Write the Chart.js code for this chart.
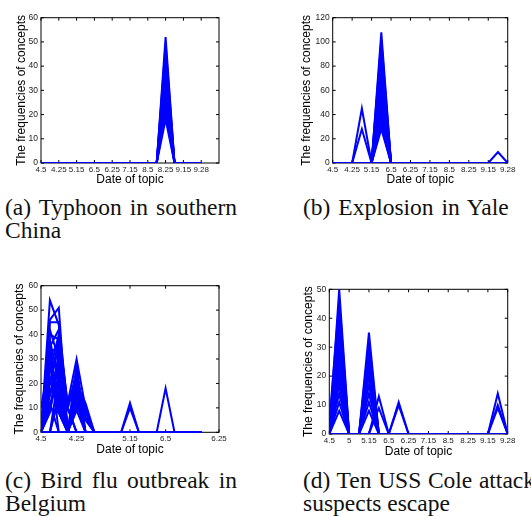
<!DOCTYPE html>
<html>
<head>
<meta charset="utf-8">
<script src="https://cdn.jsdelivr.net/npm/chart.js@4.4.0/dist/chart.umd.min.js"></script>
<style>
  body { margin: 0; background: #fff; width: 531px; height: 516px; overflow: hidden; position: relative; }
  canvas { position: absolute; }
  .cap { position: absolute; width: 232px; font-family: "Liberation Serif", "Times New Roman", serif;
         font-size: 23.5px; line-height: 23px; color: #111; text-align: justify; text-align-last: left; }
</style>
</head>
<body>
<canvas id="chartA" width="265" height="190" style="left:0;top:0"></canvas>
<canvas id="chartB" width="251" height="190" style="left:280px;top:0"></canvas>
<canvas id="chartC" width="265" height="190" style="left:0;top:270px"></canvas>
<canvas id="chartD" width="251" height="190" style="left:280px;top:270px"></canvas>
<div class="cap" style="left:5px;top:196px">(a) Typhoon in southern China</div>
<div class="cap" style="left:303px;top:196px;word-spacing:2px">(b) Explosion in Yale</div>
<div class="cap" style="left:5px;top:469px">(c) Bird flu outbreak in Belgium</div>
<div class="cap" style="left:303px;top:469px">(d) Ten USS Cole attack suspects escape</div>
<script>
// sampling days (index along the x axis) and the dates printed under them
const days = [0, 1, 2, 3, 4, 5, 6, 7, 8, 9, 10, 11, 12, 13, 14, 15, 16, 17, 18];
const tickDaysEven = [0, 2, 4, 6, 8, 10, 12, 14, 16, 18];
const tickLabelsA = ['4.5', '4.25', '5.15', '6.5', '6.25', '7.15', '8.5', '8.25', '9.15', '9.28'];
const tickLabelsB = ['4.5', '4.25', '5.15', '6.5', '6.25', '7.15', '8.5', '8.25', '9.15', '9.28'];
const tickDaysC = [0, 4, 10, 14, 20];
const tickLabelsC = ['4.5', '4.25', '5.15', '6.5', '6.25'];
const tickLabelsD = ['4.5', '5', '5.15', '6.5', '6.25', '7.15', '8.5', '8.25', '9.15', '9.28'];

// each concept: [day, frequency] pairs, every other day is 0
const seriesA = [
  [[14, 52]], [[14, 49]], [[14, 46]], [[14, 43]], [[14, 40]], [[14, 37]], [[14, 35]],
  [[14, 32]], [[14, 29]], [[14, 26]], [[14, 24]], [[14, 21]], [[14, 18]]
];
const seriesB = [
  [[3, 45]], [[3, 28]],
  [[5, 108]], [[5, 102]], [[5, 96]], [[5, 90]], [[5, 84]], [[5, 79]], [[5, 73]], [[5, 67]],
  [[5, 61]], [[5, 55]], [[5, 50]], [[5, 45]], [[5, 40]], [[5, 36]], [[5, 32]], [[5, 28]],
  [[17, 9]]
];
const seriesC = [
  [[1, 54], [2, 44]], [[1, 46], [2, 51]], [[1, 45], [2, 45], [3, 10]], [[1, 42], [2, 30], [3, 10], [4, 25]],
  [[1, 40], [2, 38]], [[1, 38], [2, 20], [4, 12]], [[1, 35], [2, 42], [3, 10]], [[1, 33], [2, 10]],
  [[1, 30], [2, 25], [4, 20]], [[1, 28], [2, 15]], [[1, 25], [2, 40], [3, 12], [4, 30], [5, 10]],
  [[1, 22], [2, 8]], [[1, 20], [2, 35], [4, 18]], [[1, 18], [2, 12]], [[1, 15], [2, 30], [3, 10], [4, 22], [5, 8]],
  [[1, 12], [2, 20]], [[1, 10], [2, 8], [4, 15]], [[1, 8], [2, 28]], [[1, 36], [2, 9], [4, 10], [5, 5]],
  [[1, 9], [2, 33]], [[2, 24]], [[2, 14], [4, 28]], [[4, 20], [5, 12]], [[4, 16]], [[4, 12], [5, 8]],
  [[4, 9]], [[0, 10], [1, 30]], [[0, 6], [1, 20], [2, 38]], [[0, 4], [1, 12]],
  [[1, 32], [2, 36]], [[1, 26], [2, 18]], [[1, 16], [2, 26], [3, 10]], [[2, 16], [4, 24], [5, 6]],
  [[10, 12]], [[10, 10]], [[14, 18]]
];
const seriesD = [
  [[1, 50]], [[0, 4], [1, 46]], [[1, 42]], [[0, 3], [1, 38]], [[1, 35]], [[1, 30]], [[0, 5], [1, 28]],
  [[1, 25]], [[1, 22]], [[1, 20]], [[1, 17]], [[1, 14]], [[1, 11]], [[1, 8]],
  [[4, 35]], [[4, 32]], [[4, 29]], [[4, 26]], [[4, 23]], [[4, 20]], [[4, 17]], [[4, 14]], [[4, 11]], [[4, 8]],
  [[5, 13]], [[5, 9]], [[7, 11]], [[7, 10]],
  [[17, 14]], [[17, 10]], [[17, 9]]
];

Chart.defaults.font.family = '"Liberation Sans", Arial, Helvetica, sans-serif';
Chart.defaults.color = '#222';

function toPoints(pairs) {
  const known = new Map(pairs);
  return days.map(d => ({ x: d, y: known.has(d) ? known.get(d) : 0 }));
}

// MATLAB-like box with inward tick marks
const frame = {
  id: 'frame',
  beforeDatasetsDraw(chart) {
    const { ctx, chartArea: a, scales: { x, y } } = chart;
    const len = 3;
    ctx.save();
    ctx.strokeStyle = '#000';
    ctx.lineWidth = 1;
    ctx.strokeRect(a.left, a.top, a.right - a.left, a.bottom - a.top);
    ctx.beginPath();
    y.ticks.forEach(t => {
      const py = y.getPixelForValue(t.value);
      ctx.moveTo(a.left, py); ctx.lineTo(a.left + len, py);
      ctx.moveTo(a.right, py); ctx.lineTo(a.right - len, py);
    });
    x.ticks.forEach(t => {
      const px = x.getPixelForValue(t.value);
      ctx.moveTo(px, a.top); ctx.lineTo(px, a.top + len);
      ctx.moveTo(px, a.bottom); ctx.lineTo(px, a.bottom - len);
    });
    ctx.stroke();
    ctx.restore();
  }
};

function makeChart(id, series, c) {
  return new Chart(document.getElementById(id), {
    type: 'line',
    data: {
      datasets: series.map(s => ({
        data: toPoints(s),
        borderColor: '#0000ff',
        borderWidth: 2,
        pointRadius: 0,
        fill: false,
        tension: 0
      }))
    },
    options: {
      responsive: false,
      animation: false,
      events: [],
      layout: { padding: { top: c.top, right: c.right, left: 0, bottom: 0 } },
      plugins: { legend: { display: false }, tooltip: { enabled: false } },
      scales: {
        x: {
          type: 'linear', min: 0, max: c.xMax,
          afterBuildTicks: s => { s.ticks = c.tickDays.map(v => ({ value: v })); },
          afterFit: s => { s.height = c.xH; },
          grid: { display: false, drawTicks: false },
          border: { display: false },
          ticks: { autoSkip: false, maxRotation: 0, padding: 2, font: { size: 8 },
                   callback: (v, i) => c.tickLabels[i] },
          title: { display: true, text: 'Date of topic', color: '#000', font: { size: 12 },
                   padding: { top: 0, bottom: c.xTitlePad } }
        },
        y: {
          min: 0, max: c.yMax,
          afterFit: s => { s.width = c.yW; },
          grid: { display: false, drawTicks: false },
          border: { display: false },
          ticks: { stepSize: c.yStep, padding: 3, font: { size: 8.5 } },
          title: { display: true, text: 'The frequencies of concepts', color: '#000', font: { size: 12 },
                   padding: { top: c.yTitlePad, bottom: 0 } }
        }
      }
    },
    plugins: [frame]
  });
}

window.addEventListener('DOMContentLoaded', () => {
  makeChart('chartA', seriesA, { top: 17.7, right: 46, xH: 27, yW: 41, xMax: 20, tickDays: tickDaysEven,
    tickLabels: tickLabelsA, yMax: 60, yStep: 10, xTitlePad: 2.8, yTitlePad: 14.8 });
  makeChart('chartB', seriesB, { top: 17.7, right: 23.3, xH: 27, yW: 52.7, xMax: 18, tickDays: tickDaysEven,
    tickLabels: tickLabelsB, yMax: 120, yStep: 20, xTitlePad: 2.8, yTitlePad: 19.5 });
  makeChart('chartC', seriesC, { top: 15.7, right: 46, xH: 27.7, yW: 41, xMax: 20, tickDays: tickDaysC,
    tickLabels: tickLabelsC, yMax: 60, yStep: 10, xTitlePad: 2.8, yTitlePad: 12.8 });
  makeChart('chartD', seriesD, { top: 19.3, right: 23.3, xH: 26, yW: 49.3, xMax: 18, tickDays: tickDaysEven,
    tickLabels: tickLabelsD, yMax: 50, yStep: 10, xTitlePad: 1.1, yTitlePad: 21.1 });
});
</script>
</body>
</html>
